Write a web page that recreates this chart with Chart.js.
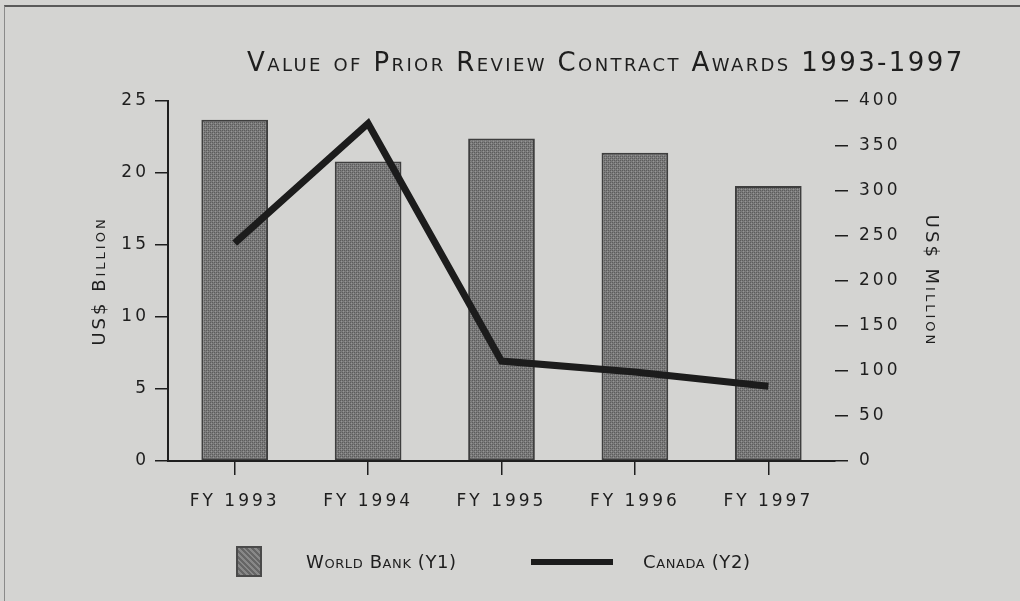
<!DOCTYPE html>
<html>
<head>
<meta charset="utf-8">
<script src="https://cdn.jsdelivr.net/npm/chart.js@4"></script>
<style>
  html, body { margin: 0; padding: 0; background: #d4d4d2; }
  #wrap { position: relative; width: 1020px; height: 601px; overflow: hidden; background: #d4d4d2; }
  #frame { position: absolute; left: 4px; top: 5px; width: 1030px; height: 620px;
           border-top: 2px solid #5a5a5a; border-left: 1px solid #8a8a8a; }
  canvas { position: absolute; left: 0; top: 0; }
  .sc { font-family: "DejaVu Sans", sans-serif; font-variant: small-caps; color: #1e1e1e; position: absolute; white-space: nowrap; }
  #title { left: 247px; top: 47px; font-size: 26px; letter-spacing: 2.4px; }
  #legend { position: absolute; left: 0; top: 546px; width: 1020px; height: 32px; }
  .lgBox { position: absolute; left: 236px; top: 0; width: 26px; height: 31px; box-sizing: border-box;
           border: 2px solid #4a4a4a; background: repeating-linear-gradient(45deg, #666 0 2px, #888 2px 4px); }
  .lgLine { position: absolute; left: 531px; top: 13px; width: 82px; height: 6px; background: #1c1c1c; }
  .lgText { position: absolute; top: 5px; font-size: 18px; letter-spacing: 0.6px; }
</style>
</head>
<body>
<div id="wrap">
  <div id="frame"></div>
  <canvas id="chart" width="1020" height="601"></canvas>
  <div id="title" class="sc">Value of Prior Review Contract Awards 1993-1997</div>
  <div id="legend">
    <div class="lgBox"></div>
    <div class="sc lgText" style="left:306px">World Bank (Y1)</div>
    <div class="lgLine"></div>
    <div class="sc lgText" style="left:643px">Canada (Y2)</div>
  </div>
</div>
<script>
const categories = ["FY 1993", "FY 1994", "FY 1995", "FY 1996", "FY 1997"];
const worldBank = [23.7, 20.8, 22.4, 21.4, 19.1];   // US$ billion (Y1)
const canada = [242, 375, 111, 99, 83];              // US$ million (Y2)
const leftTicks = [0, 5, 10, 15, 20, 25];
const rightTicks = [0, 50, 100, 150, 200, 250, 300, 350, 400];

const INK = "#1e1e1e";
const FONT = "DejaVu Sans";

// stippled grey fill like the scanned bars
function barPattern() {
  const c = document.createElement("canvas");
  c.width = 4; c.height = 4;
  const g = c.getContext("2d");
  g.fillStyle = "#7a7a7a";
  g.fillRect(0, 0, 4, 4);
  g.fillStyle = "#5c5c5c";
  g.fillRect(0, 0, 1, 1); g.fillRect(2, 2, 1, 1); g.fillRect(2, 0, 1, 1); g.fillRect(0, 2, 1, 1);
  g.fillStyle = "#959595";
  g.fillRect(1, 1, 1, 1); g.fillRect(3, 3, 1, 1);
  return g.createPattern(c, "repeat");
}

// wider lettering on the canvas text
const spacing = {
  id: "spacing",
  beforeUpdate(chart) { chart.ctx.letterSpacing = "3px"; },
  beforeDraw(chart) { chart.ctx.letterSpacing = "3px"; }
};

const tickFont = { family: FONT, size: 17 };
const titleFont = { family: FONT, size: 18, weight: "small-caps normal" };

new Chart(document.getElementById("chart").getContext("2d"), {
  data: {
    labels: categories,
    datasets: [
      {
        type: "line",
        label: "Canada (Y2)",
        data: canada,
        yAxisID: "y2",
        borderColor: "#1c1c1c",
        borderWidth: 7,
        pointRadius: 0,
        tension: 0,
        order: 0
      },
      {
        type: "bar",
        label: "World Bank (Y1)",
        data: worldBank,
        yAxisID: "y",
        backgroundColor: barPattern(),
        borderColor: "#3e3e3e",
        borderWidth: 2,
        borderSkipped: false,
        categoryPercentage: 0.5,
        barPercentage: 1.0,
        order: 1
      }
    ]
  },
  options: {
    responsive: false,
    animation: false,
    layout: { padding: { left: 86, right: 75, top: 101, bottom: 0 } },
    plugins: { legend: { display: false }, tooltip: { enabled: false } },
    scales: {
      x: {
        grid: { display: true, drawOnChartArea: false, drawTicks: true, tickLength: 14, offset: false, color: INK, lineWidth: 1.5 },
        border: { display: true, color: INK, width: 2 },
        ticks: { color: INK, font: tickFont, padding: 16, maxRotation: 0 },
        afterFit(s) { s.height = 140; }
      },
      y: {
        position: "left",
        min: 0, max: 25,
        afterBuildTicks(s) { s.ticks = leftTicks.map(v => ({ value: v })); },
        grid: { display: true, drawOnChartArea: false, drawTicks: true, tickLength: 13, color: INK, lineWidth: 1.5 },
        border: { display: true, color: INK, width: 2 },
        ticks: { color: INK, font: tickFont, padding: 6 },
        title: { display: true, text: "US$ Billion", color: INK, font: titleFont, padding: 4 },
        afterFit(s) { s.width = 82; }
      },
      y2: {
        position: "right",
        min: 0, max: 400,
        afterBuildTicks(s) { s.ticks = rightTicks.map(v => ({ value: v })); },
        grid: { display: true, drawOnChartArea: false, drawTicks: true, tickLength: 13, color: INK, lineWidth: 1.5 },
        border: { display: false },
        ticks: { color: INK, font: tickFont, padding: 11 },
        title: { display: true, text: "US$ Million", color: INK, font: titleFont, padding: 4 },
        afterFit(s) { s.width = 110; }
      }
    }
  },
  plugins: [spacing]
});
</script>
</body>
</html>
